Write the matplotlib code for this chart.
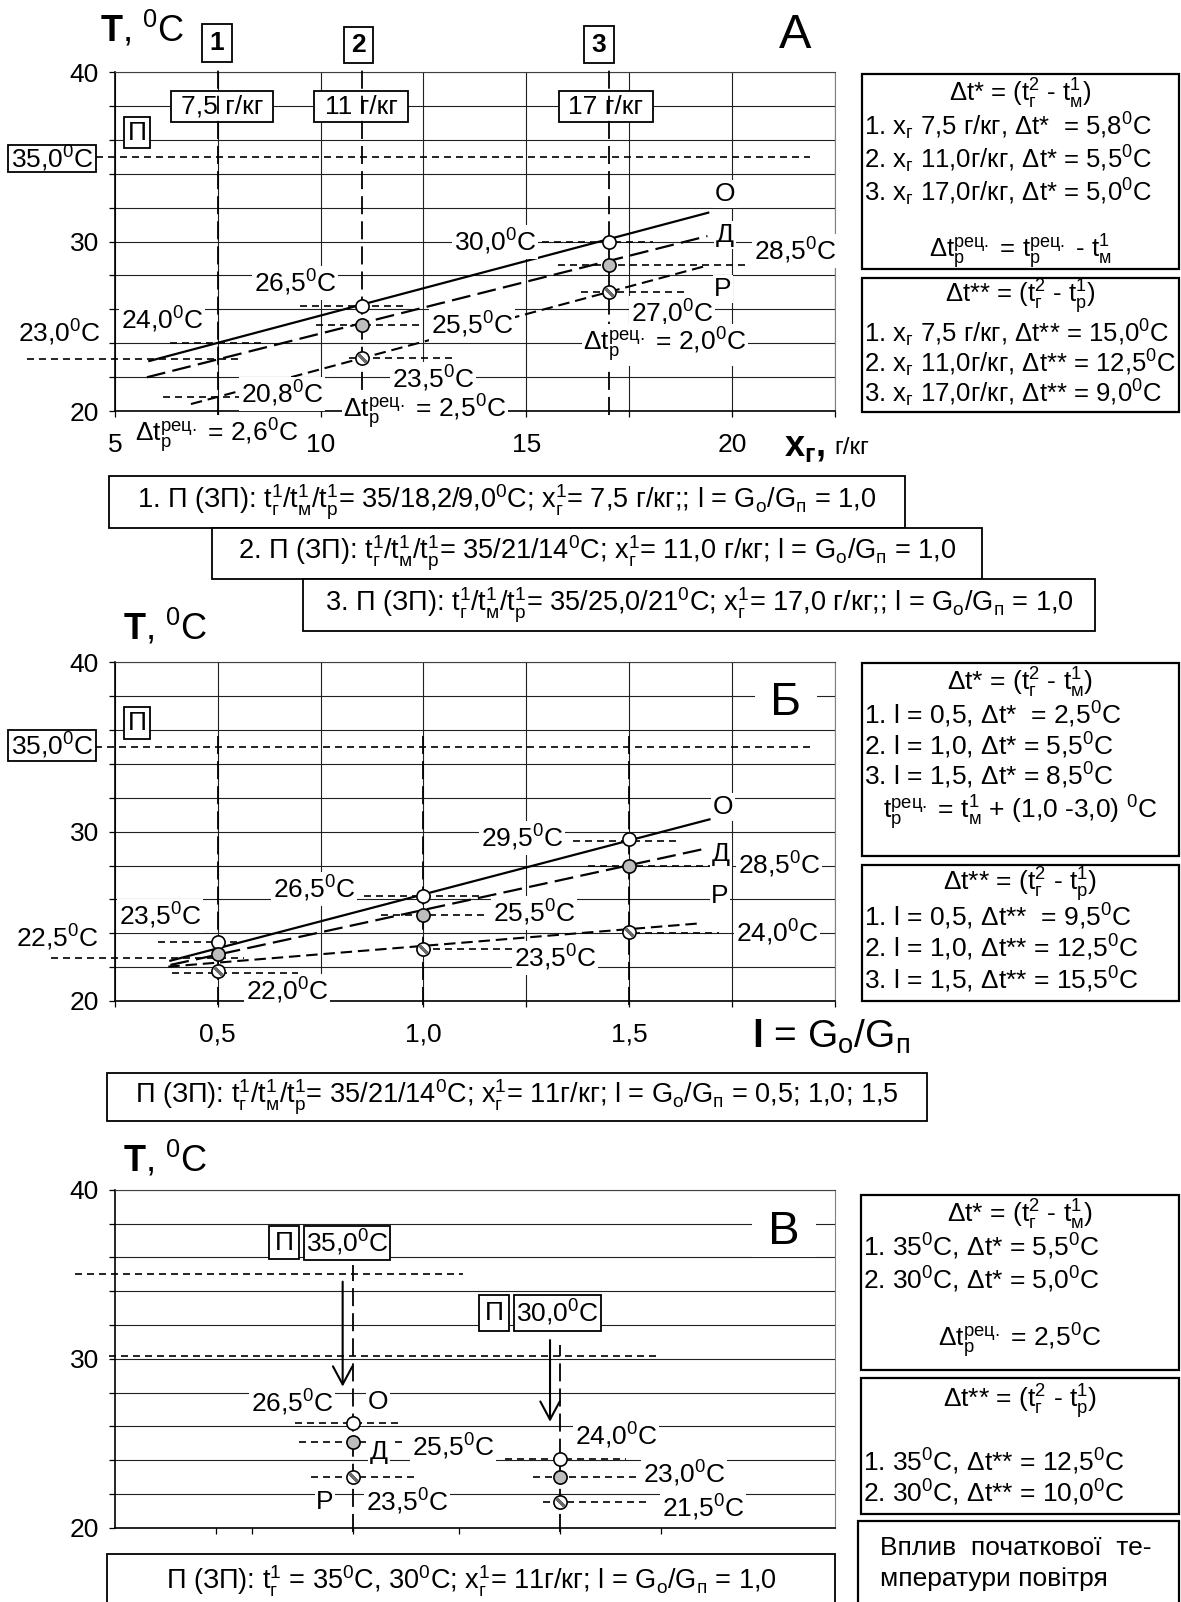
import numpy as np
import matplotlib
matplotlib.use("Agg")
import matplotlib.pyplot as plt
from matplotlib.patches import Rectangle

plt.rcParams["font.family"] = ["Liberation Sans", "DejaVu Sans"]
plt.rcParams["mathtext.fontset"] = "custom"
plt.rcParams["mathtext.rm"] = "Liberation Sans"
plt.rcParams["mathtext.it"] = "Liberation Sans:italic"
plt.rcParams["mathtext.bf"] = "Liberation Sans:bold"
plt.rcParams["mathtext.default"] = "regular"

# ---------------- data ----------------
t_ticks = [20, 22, 24, 26, 28, 30, 32, 34, 36, 38, 40]
t_ticklabels = ["20", "", "", "", "", "30", "", "", "", "", "40"]

# A: humidity x_г, g/kg
a_xticks = [5, 7.5, 10, 12.5, 15, 17.5, 20, 22.5]
a_xticklabels = ["5", "", "10", "", "15", "", "20", ""]
a_cases = [7.5, 11.0, 17.0]
a_case_tags = ["1", "2", "3"]
a_case_names = ["7,5 г/кг", "11 г/кг", "17 г/кг"]
a_pts_x = [11.0, 17.0]
a_t_o = [26.2, 30.0]
a_t_d = [25.1, 28.6]
a_t_r = [23.1, 27.0]
a_fit_o_x, a_fit_o_t = [5.84, 19.42], [22.95, 31.70]
a_fit_d_x, a_fit_d_t = [5.78, 19.40], [21.99, 30.32]
a_fit_r_x, a_fit_r_t = [6.85, 19.38], [20.41, 28.57]
a_guide_t = [35.0, 30.0, 28.6, 27.0, 26.2, 25.1, 23.1, 24.0, 23.07, 20.85]
a_guide_x0 = [4.54, 15.37, 15.77, 16.34, 9.5, 9.9, 10.7, 6.34, 2.87, 6.17]
a_guide_x1 = [21.9, 18.08, 20.43, 18.93, 12.09, 12.46, 13.2, 8.62, 8.07, 8.16]

# Б: ratio l = Go/Gп
b_xticks = [0.25, 0.5, 0.75, 1.0, 1.25, 1.5, 1.75, 2.0]
b_xticklabels = ["", "0,5", "", "1,0", "", "1,5", "", ""]
b_pts_x = [0.5, 1.0, 1.5]
b_t_o = [23.5, 26.2, 29.55]
b_t_d = [22.8, 25.1, 28.0]
b_t_r = [21.8, 23.1, 24.05]
b_fit_o_x, b_fit_o_t = [0.385, 1.695], [22.38, 30.73]
b_fit_d_x, b_fit_d_t = [0.385, 1.677], [22.13, 28.96]
b_fit_r_x, b_fit_r_t = [0.38, 1.673], [22.03, 24.59]
b_guide_t = [35.0, 29.47, 27.97, 24.03, 26.2, 25.1, 23.07, 23.5, 22.55, 21.67]
b_guide_x0 = [0.203, 1.364, 1.40, 1.51, 0.856, 0.897, 0.994, 0.356, 0.096, 0.389]
b_guide_x1 = [1.94, 1.62, 1.75, 1.718, 1.14, 1.157, 1.226, 0.551, 0.563, 0.694]
b_case_top = [36.1, 35.7, 36.1]

# В: initial air temperature 35 / 30 °C
v_xticks = [0.34, 0.51, 1.0, 1.51, 2.0, 2.49]
v_pts_x = [1.0, 2.0]
v_start_t = [35.0, 30.15]
v_t_o = [26.2, 24.05]
v_t_d = [25.1, 23.0]
v_t_r = [23.0, 21.5]
v_case_top = [35.55, 30.8]
v_arrow_x = [0.95, 1.952]
v_arrow_t0 = [34.56, 31.1]
v_arrow_t1 = [28.35, 26.27]
v_guide_t = [26.2, 25.1, 23.0, 24.05, 23.0, 21.5]
v_guide_x0 = [0.72, 0.74, 0.796, 1.734, 1.87, 1.916]
v_guide_x1 = [1.235, 1.25, 1.31, 2.319, 2.38, 2.428]
v_start_x0 = [-0.345, -0.18]
v_start_x1 = [1.53, 2.49]

D = "$^0$C"
LBL = 19      # in-plot labels
BOX = 19      # side boxes
MID = 19.5    # condition boxes

# ---------------- layout helpers ----------------
W, H = 1181, 1602
fig = plt.figure(figsize=(W / 100, H / 100), dpi=100)


def area(l, t, r, b):
    return [l / W, 1 - b / H, (r - l) / W, (b - t) / H]


def txt(ax, x, y, s, size=LBL, ha="center", bg=True, z=6, **kw):
    bb = dict(boxstyle="square,pad=0.06", fc="white", ec="none") if bg else None
    ax.text(x / W, 1 - y / H, s, transform=fig.transFigure, ha=ha, va="center",
            fontsize=size, bbox=bb, zorder=z, clip_on=False, **kw)


def frame(ax, l, t, r, b, z=6, lw=1.5):
    ax.add_patch(Rectangle((l / W, 1 - b / H), (r - l) / W, (b - t) / H,
                           transform=fig.transFigure, fc="white", ec="black",
                           lw=lw, zorder=z, clip_on=False))


def boxed(ax, l, t, r, b, s, size=LBL, z=6, **kw):
    frame(ax, l, t, r, b, z=z, lw=1.3)
    txt(ax, (l + r) / 2, (t + b) / 2, s, size=size, bg=False, z=z + 0.1, **kw)


def style(ax, xlim, xticks, xlabels, xgrid=True):
    ax.set_xlim(*xlim)
    ax.set_ylim(20, 40)
    ax.set_xticks(xticks)
    ax.set_xticklabels(xlabels)
    ax.set_yticks(t_ticks)
    ax.set_yticklabels(t_ticklabels)
    ax.tick_params(direction="out", length=4.5, width=0.9, labelsize=19)
    ax.tick_params(axis="x", pad=11)
    ax.tick_params(axis="y", pad=7)
    ax.grid(axis="y", color="#202020", lw=0.8)
    if xgrid:
        ax.grid(axis="x", color="#202020", lw=0.8)
    ax.set_axisbelow(True)
    for s in ["left", "bottom"]:
        ax.spines[s].set_linewidth(1.2)
    ax.spines["top"].set_color("#404040")
    ax.spines["right"].set_color("#808080")


def fits(ax, ox, ot, dx, dt, rx, rt):
    ax.plot(ox, ot, color="black", lw=1.6, zorder=3)
    ax.plot(dx, dt, color="black", lw=1.6, ls=(0, (8.5, 3.3)), zorder=3)
    ax.plot(rx, rt, color="black", lw=1.5, ls=(0, (5.5, 2.8)), zorder=3)


def guides(ax, ts, x0, x1):
    for t, a, b in zip(ts, x0, x1):
        ax.plot([a, b], [t, t], color="black", lw=1.2, ls=(0, (4.2, 3)),
                zorder=4, clip_on=False)


def marks(ax, xs, o, d, r):
    ax.plot(xs, o, "o", ms=9.5, mfc="white", mec="black", mew=1.2, zorder=8)
    ax.plot(xs, d, "o", ms=9.5, mfc="#bdbdbd", mec="black", mew=1.2, zorder=8)
    ax.plot(xs, r, "o", ms=9.5, mfc="white", mec="black", mew=1.2, zorder=8)
    ax.plot(xs, r, ls="none", marker=(2, 2, 45), ms=8, mec="#6a6a6a", mew=2.2, zorder=9)


def case_line(ax, x, t_top):
    ax.plot([x, x], [19.75, t_top], color="black", lw=1.3, ls=(0, (10, 3.9)),
            zorder=4, clip_on=False)


def side_box(ax, l, t, r, b, rows, size=BOX):
    frame(ax, l, t, r, b, z=6, lw=1.6)
    for s, y, centered in rows:
        if centered:
            txt(ax, (l + r) / 2, y, s, size=size, bg=False, z=6.2)
        else:
            txt(ax, l + 2, y, s, size=size, ha="left", bg=False, z=6.2)


# ---------------- panel A ----------------
axA = fig.add_axes(area(114.8, 72, 835, 411))
style(axA, (5, 22.5), a_xticks, a_xticklabels)
fits(axA, a_fit_o_x, a_fit_o_t, a_fit_d_x, a_fit_d_t, a_fit_r_x, a_fit_r_t)
guides(axA, a_guide_t, a_guide_x0, a_guide_x1)
for x in a_cases:
    case_line(axA, x, 40.5)
marks(axA, a_pts_x, a_t_o, a_t_d, a_t_r)

for (l, t, r, b), s in zip([(202, 24, 232, 62), (344, 27, 373, 63), (584, 26, 614, 63)],
                           a_case_tags):
    boxed(axA, l, t, r, b, s, size=19, weight="bold")
for (l, t, r, b), s in zip([(171, 91, 273, 122), (314, 91, 408, 122), (559, 91, 653, 122)],
                           a_case_names):
    boxed(axA, l, t, r, b, s, size=19, z=2.5)
boxed(axA, 124, 117, 150, 148, "П")
boxed(axA, 8, 145, 96, 172, "35,0" + D)

txt(axA, 100, 29, r"$\mathbf{T}$, $^0$C", size=26, ha="left", bg=False)
txt(axA, 795, 36, "А", size=35, bg=False)
txt(axA, 784, 446, r"$\mathbf{x_{г},}$", size=26, ha="left", bg=False)
txt(axA, 834, 448, "г/кг", size=17.5, ha="left", bg=False)

for s, x, y in [("30,0" + D, 495, 242), ("26,5" + D, 295, 283), ("24,0" + D, 162, 320),
                ("23,0" + D, 59, 333), ("25,5" + D, 472, 325), ("23,5" + D, 433, 379),
                ("20,8" + D, 282, 394), (r"Δt$^{рец.}_{р}$ = 2,5" + D, 425, 412),
                (r"Δt$^{рец.}_{р}$ = 2,6" + D, 217, 436), ("27,0" + D, 672, 313),
                (r"Δt$^{рец.}_{р}$ = 2,0" + D, 665, 345), ("28,5" + D, 795, 251),
                ("О", 725, 194), ("Д", 725, 235), ("Р", 723, 289)]:
    txt(axA, x, y, s)

side_box(axA, 862, 74, 1179, 269, [
    (r"Δt* = (t$^2_г$ - t$_м^1$)", 94, True),
    ("1. x$_г$ 7,5 г/кг, Δt*  = 5,8" + D, 126, False),
    ("2. x$_г$ 11,0г/кг, Δt* = 5,5" + D, 159, False),
    ("3. x$_г$ 17,0г/кг, Δt* = 5,0" + D, 192, False),
    (r"Δt$^{рец.}_{р}$ = t$^{рец.}_{р}$ - t$_м^1$", 252, True)], size=18.5)
side_box(axA, 862, 278, 1179, 412, [
    (r"Δt** = (t$^2_г$ - t$_р^1$)", 297, True),
    ("1. x$_г$ 7,5 г/кг, Δt** = 15,0" + D, 333, False),
    ("2. x$_г$ 11,0г/кг, Δt** = 12,5" + D, 363, False),
    ("3. x$_г$ 17,0г/кг, Δt** = 9,0" + D, 393, False)], size=18.5)

mid = [((109, 476, 905, 528), "1. П (ЗП): t$_г^1$/t$_м^1$/t$_р^1$= 35/18,2/9,0" + D +
        "; x$_г^1$= 7,5 г/кг;; l = G$_о$/G$_п$ = 1,0"),
       ((212, 528, 982, 579), "2. П (ЗП): t$_г^1$/t$_м^1$/t$_р^1$= 35/21/14" + D +
        "; x$_г^1$= 11,0 г/кг; l = G$_о$/G$_п$ = 1,0"),
       ((303, 579, 1095, 631), "3. П (ЗП): t$_г^1$/t$_м^1$/t$_р^1$= 35/25,0/21" + D +
        "; x$_г^1$= 17,0 г/кг;; l = G$_о$/G$_п$ = 1,0")]
for (l, t, r, b), s in mid:
    boxed(axA, l, t, r, b, s, size=MID)

# ---------------- panel Б ----------------
axB = fig.add_axes(area(114.8, 662.5, 835, 1001))
style(axB, (0.25, 2.0), b_xticks, b_xticklabels)
fits(axB, b_fit_o_x, b_fit_o_t, b_fit_d_x, b_fit_d_t, b_fit_r_x, b_fit_r_t)
guides(axB, b_guide_t, b_guide_x0, b_guide_x1)
for x, top in zip(b_pts_x, b_case_top):
    case_line(axB, x, top)
marks(axB, b_pts_x, b_t_o, b_t_d, b_t_r)

boxed(axB, 124, 707, 150, 739, "П")
boxed(axB, 8, 730, 96, 761, "35,0" + D)
txt(axB, 123, 627, r"$\mathbf{T}$, $^0$C", size=26, ha="left", bg=False)
txt(axB, 786, 703, " Б ", size=34)
txt(axB, 752, 1037, r"$\mathbf{l}$ = G$_о$/G$_п$", size=28, ha="left", bg=False)

for s, x, y in [("29,5" + D, 522, 838), ("26,5" + D, 314, 889), ("25,5" + D, 534, 913),
                ("23,5" + D, 555, 958), ("23,5" + D, 160, 916), ("22,5" + D, 57, 938),
                ("22,0" + D, 287, 991), ("28,5" + D, 779, 865), ("24,0" + D, 777, 933),
                ("О", 723, 807), ("Д", 721, 854), ("Р", 720, 896)]:
    txt(axB, x, y, s)

side_box(axB, 862, 663, 1179, 856, [
    (r"Δt* = (t$^2_г$ - t$_м^1$)", 683, True),
    ("1. l = 0,5, Δt*  = 2,5" + D, 715, False),
    ("2. l = 1,0, Δt* = 5,5" + D, 746, False),
    ("3. l = 1,5, Δt* = 8,5" + D, 776, False),
    (r"t$^{рец.}_{р}$ = t$_м^1$ + (1,0 -3,0) " + D, 813, True)])
side_box(axB, 862, 865, 1179, 1001, [
    (r"Δt** = (t$^2_г$ - t$_р^1$)", 885, True),
    ("1. l = 0,5, Δt**  = 9,5" + D, 917, False),
    ("2. l = 1,0, Δt** = 12,5" + D, 948, False),
    ("3. l = 1,5, Δt** = 15,5" + D, 980, False)])
boxed(axB, 107, 1073, 927, 1121, "П (ЗП): t$_г^1$/t$_м^1$/t$_р^1$= 35/21/14" + D +
      "; x$_г^1$= 11г/кг; l = G$_о$/G$_п$ = 0,5; 1,0; 1,5", size=MID)

# ---------------- panel В ----------------
axV = fig.add_axes(area(114.8, 1189.7, 835, 1527.7))
style(axV, (-0.151, 3.329), v_xticks, [""] * len(v_xticks), xgrid=False)
guides(axV, v_start_t, v_start_x0, v_start_x1)
guides(axV, v_guide_t, v_guide_x0, v_guide_x1)
for x, top in zip(v_pts_x, v_case_top):
    case_line(axV, x, top)
for x, t0, t1 in zip(v_arrow_x, v_arrow_t0, v_arrow_t1):
    axV.annotate("", xy=(x, t1), xytext=(x, t0), zorder=5,
                 arrowprops=dict(arrowstyle="->,head_length=0.65,head_width=0.35",
                                 mutation_scale=20, lw=1.5, color="black",
                                 shrinkA=0, shrinkB=0))
marks(axV, v_pts_x, v_t_o, v_t_d, v_t_r)

boxed(axV, 269, 1226, 299, 1259, "П")
boxed(axV, 304, 1226, 390, 1260, "35,0" + D)
boxed(axV, 479, 1295, 509, 1331, "П")
boxed(axV, 514, 1295, 601, 1331, "30,0" + D)
txt(axV, 123, 1159, r"$\mathbf{T}$, $^0$C", size=26, ha="left", bg=False)
txt(axV, 784, 1232, " В ", size=34)

for s, x, y in [("26,5" + D, 292, 1403), ("О", 378, 1402), ("Д", 379, 1452),
                ("25,5" + D, 453, 1447), ("Р", 325, 1502), ("23,5" + D, 407, 1502),
                ("24,0" + D, 616, 1436), ("23,0" + D, 684, 1474), ("21,5" + D, 703, 1508)]:
    txt(axV, x, y, s)

side_box(axV, 861, 1195, 1179, 1370, [
    (r"Δt* = (t$^2_г$ - t$_м^1$)", 1215, True),
    ("1. 35" + D + ", Δt* = 5,5" + D, 1247, False),
    ("2. 30" + D + ", Δt* = 5,0" + D, 1280, False),
    (r"Δt$^{рец.}_{р}$ = 2,5" + D, 1341, True)])
side_box(axV, 861, 1378, 1179, 1514, [
    (r"Δt** = (t$^2_г$ - t$_р^1$)", 1402, True),
    ("1. 35" + D + ", Δt** = 12,5" + D, 1462, False),
    ("2. 30" + D + ", Δt** = 10,0" + D, 1493, False)])
frame(axV, 858, 1521, 1179, 1608, lw=1.6)
txt(axV, 880, 1548, "Вплив  початкової  те-", size=BOX, ha="left", bg=False, z=6.2)
txt(axV, 880, 1579, "мператури повітря", size=BOX, ha="left", bg=False, z=6.2)
boxed(axV, 107, 1554, 835, 1608, "П (ЗП): t$_г^1$ = 35" + D + ", 30" + D +
      "; x$_г^1$= 11г/кг; l = G$_о$/G$_п$ = 1,0", size=19.5)

fig.savefig("out.png", dpi=100)
